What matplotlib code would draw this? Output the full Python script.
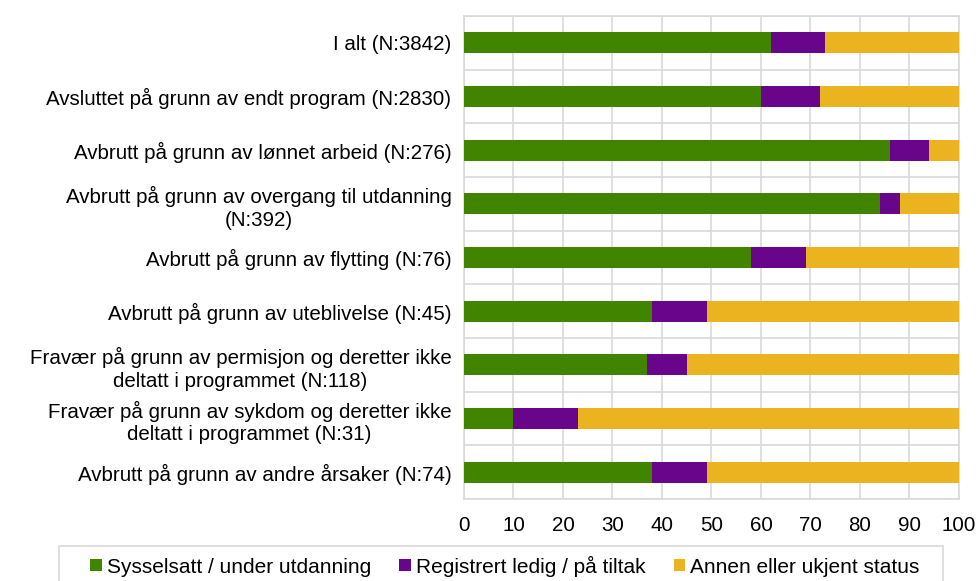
import matplotlib
matplotlib.use("Agg")
import matplotlib.pyplot as plt
from matplotlib.patches import Patch, Rectangle
import numpy as np

plt.rcParams["font.family"] = ["Liberation Sans", "DejaVu Sans"]

# ---------------------------
# DATA
# ---------------------------

kategorier = [
    "I alt (N:3842)",
    "Avsluttet på grunn av endt program (N:2830)",
    "Avbrutt på grunn av lønnet arbeid (N:276)",
    "Avbrutt på grunn av overgang til utdanning\n(N:392)",
    "Avbrutt på grunn av flytting (N:76)",
    "Avbrutt på grunn av uteblivelse (N:45)",
    "Fravær på grunn av permisjon og deretter ikke\ndeltatt i programmet (N:118)",
    "Fravær på grunn av sykdom og deretter ikke\ndeltatt i programmet (N:31)",
    "Avbrutt på grunn av andre årsaker (N:74)",
]

sysselsatt = [62, 60, 86, 84, 58, 38, 37, 10, 38]
registrert = [11, 12, 8, 4, 11, 11, 8, 13, 11]
annen = [27, 28, 6, 12, 31, 51, 55, 77, 51]

serier = ["Sysselsatt / under utdanning", "Registrert ledig / på tiltak", "Annen eller ukjent status"]
farger = ["#418400", "#69058a", "#ecb320"]

# ---------------------------
# GRAFIKK
# ---------------------------

fig = plt.figure(figsize=(9.79, 5.81), dpi=100)
ax = fig.add_axes([464 / 979, 1 - 499 / 581, (959 - 464) / 979, (499 - 16) / 581])

y = np.arange(len(kategorier))
venstre = np.zeros(len(kategorier))
for verdier, farge, navn in zip([sysselsatt, registrert, annen], farger, serier):
    ax.barh(y, verdier, left=venstre, height=0.39, color=farge, label=navn, zorder=3)
    venstre += np.array(verdier)

grid_farge = "#d9d9d9"
ax.set_xlim(0, 100)
ax.set_ylim(len(kategorier) - 0.5, -0.5)
ax.set_xticks(np.arange(0, 101, 10))
ax.set_yticks(y)
ax.set_yticklabels(kategorier, multialignment="center", linespacing=1.25)
ax.set_yticks(np.arange(-0.5, len(kategorier), 1), minor=True)
ax.grid(axis="x", color=grid_farge, linewidth=1.2, zorder=0)
ax.grid(axis="y", which="minor", color=grid_farge, linewidth=1.2, zorder=0)
ax.tick_params(axis="both", which="both", length=0, labelsize=14.8)
ax.tick_params(axis="x", pad=12)
ax.tick_params(axis="y", pad=9)
for s in ax.spines.values():
    s.set_color(grid_farge)
    s.set_linewidth(1.2)

# legende med egen ramme
fig.patches.append(Rectangle((59 / 979, -0.05), (943 - 59) / 979, 0.05 + 1 - 546 / 581,
                             transform=fig.transFigure, facecolor="white",
                             edgecolor=grid_farge, linewidth=1.2))
handles = [Patch(facecolor=f, label=n) for f, n in zip(farger, serier)]
fig.legend(handles=handles, loc="center", bbox_to_anchor=(505 / 979, 1 - 566 / 581),
           ncol=3, frameon=False, fontsize=15, handlelength=0.55, handleheight=0.55,
           handletextpad=0.25, columnspacing=1.35, borderpad=0)

fig.savefig("out.png", dpi=100)
